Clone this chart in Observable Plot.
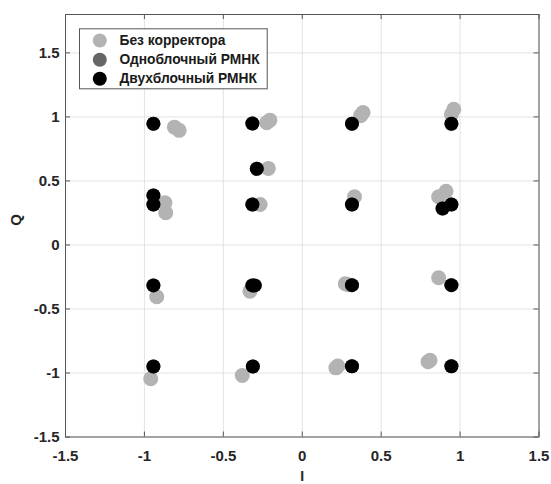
<!DOCTYPE html>
<html>
<head>
<meta charset="utf-8">
<script src="https://cdn.jsdelivr.net/npm/d3@7"></script>
<script src="https://cdn.jsdelivr.net/npm/@observablehq/plot@0.6"></script>
<style>
  html, body { margin: 0; padding: 0; background: #fff; }
  #chart svg { display: block; }
</style>
</head>
<body>
<div id="chart"></div>
<script>
// ---- data ----
const xTicks = [-1.5, -1, -0.5, 0, 0.5, 1, 1.5];
const yTicks = [-1.5, -1, -0.5, 0, 0.5, 1, 1.5];
const seriesNames = ["Без корректора", "Одноблочный РМНК", "Двухблочный РМНК"];
const seriesColors = ["#b3b3b3", "#666666", "#000000"];
const axisLabelX = "I";
const axisLabelY = "Q";

// Без корректора (no corrector)
const noCorrI = [-0.81, -0.78, -0.225, -0.205, 0.37, 0.385, 0.945, 0.96, -0.215, -0.87, -0.865, -0.267, 0.331, 0.911, 0.864, -0.922, -0.331, 0.273, 0.29, 0.864, -0.96, -0.38, 0.213, 0.225, 0.797, 0.81];
const noCorrQ = [0.92, 0.895, 0.955, 0.975, 1.01, 1.035, 1.02, 1.06, 0.598, 0.33, 0.252, 0.316, 0.376, 0.42, 0.376, -0.405, -0.361, -0.303, -0.31, -0.256, -1.045, -1.02, -0.96, -0.945, -0.912, -0.9];

// Одноблочный РМНК (single-block, hidden under two-block points)
const oneBlockI = [-0.943, -0.316, 0.315, 0.945, -0.288, -0.943, -0.943, -0.316, 0.315, 0.945, 0.889, -0.943, -0.316, 0.315, 0.945, -0.943, -0.313, 0.315, 0.945];
const oneBlockQ = [0.947, 0.949, 0.947, 0.947, 0.595, 0.387, 0.316, 0.316, 0.316, 0.316, 0.285, -0.316, -0.316, -0.314, -0.314, -0.949, -0.949, -0.947, -0.947];

// Двухблочный РМНК (two-block)
const twoBlockI = [-0.943, -0.316, 0.315, 0.945, -0.288, -0.943, -0.943, -0.316, 0.315, 0.945, 0.889, -0.943, -0.316, -0.30, 0.315, 0.945, -0.943, -0.313, 0.315, 0.945];
const twoBlockQ = [0.947, 0.949, 0.947, 0.947, 0.595, 0.387, 0.316, 0.316, 0.316, 0.316, 0.285, -0.316, -0.316, -0.316, -0.314, -0.314, -0.949, -0.949, -0.947, -0.947];

// ---- build ----
const toPts = (xs, ys) => xs.map((x, i) => ({x, y: ys[i]}));
const noCorr = toPts(noCorrI, noCorrQ);
const oneBlock = toPts(oneBlockI, oneBlockQ);
const twoBlock = toPts(twoBlockI, twoBlockQ);

const W = 551, H = 484;
const mL = 65, mR = 12.5, mT = 14, mB = 47.5;
const frameW = W - mL - mR, frameH = H - mT - mB;
const axisColor = "#555555";
const gridColor = "#e3e3e3";
const textColor = "#262626";
const tickLen = 5;

// legend geometry (pixels inside the frame)
const legLeft = 14, legTop = 14.3, legW = 187.7, legH = 60;
const legRowDy = [26, 45.3, 64.3];

const legendMarks = seriesNames.flatMap((name, i) => [
  Plot.dot([name], {frameAnchor: "top-left", dx: 34.3, dy: legRowDy[i], r: 7, fill: seriesColors[i], stroke: "none"}),
  Plot.text([name], {frameAnchor: "top-left", dx: 54, dy: legRowDy[i], text: d => d, textAnchor: "start", lineAnchor: "middle",
    fontSize: 13.8, fontWeight: "bold", fill: "#1a1a1a"})
]);

const chart = Plot.plot({
  width: W, height: H,
  marginLeft: mL, marginRight: mR, marginTop: mT, marginBottom: mB,
  style: {fontFamily: "'Liberation Sans', Arial, sans-serif", background: "#fff"},
  x: {domain: [-1.5, 1.5], label: null},
  y: {domain: [-1.5, 1.8], label: null},
  marks: [
    Plot.gridX(xTicks, {stroke: gridColor, strokeOpacity: 1}),
    Plot.gridY(yTicks, {stroke: gridColor, strokeOpacity: 1}),
    // inward tick marks on all four sides
    Plot.tickX(xTicks, {x: d => d, stroke: axisColor, insetTop: frameH - tickLen}),
    Plot.tickX(xTicks, {x: d => d, stroke: axisColor, insetBottom: frameH - tickLen}),
    Plot.tickY(yTicks, {y: d => d, stroke: axisColor, insetRight: frameW - tickLen}),
    Plot.tickY(yTicks, {y: d => d, stroke: axisColor, insetLeft: frameW - tickLen}),
    Plot.axisX(xTicks, {tickSize: 0, tickPadding: 13, tickFormat: d => String(d), fontSize: 15, fontWeight: "bold", fill: textColor, label: null}),
    Plot.axisY(yTicks, {tickSize: 0, tickPadding: 6, tickFormat: d => String(d), fontSize: 15, fontWeight: "bold", fill: textColor, label: null}),
    Plot.text([axisLabelX], {frameAnchor: "bottom", dy: 39.5, text: d => d, lineAnchor: "middle", fontSize: 14, fontWeight: "bold", fill: textColor}),
    Plot.text([axisLabelY], {frameAnchor: "left", dx: -49, text: d => d, rotate: -90, lineAnchor: "middle", fontSize: 15, fontWeight: "bold", fill: textColor}),
    // data
    Plot.dot(noCorr, {x: "x", y: "y", r: 7.5, fill: seriesColors[0], stroke: "none"}),
    Plot.dot(oneBlock, {x: "x", y: "y", r: 7, fill: seriesColors[1], stroke: "none"}),
    Plot.dot(twoBlock, {x: "x", y: "y", r: 7, fill: seriesColors[2], stroke: "none"}),
    Plot.frame({stroke: axisColor, strokeWidth: 1}),
    // legend box
    Plot.frame({fill: "#fff", stroke: axisColor, strokeWidth: 1,
      insetLeft: legLeft, insetTop: legTop, insetRight: frameW - legLeft - legW, insetBottom: frameH - legTop - legH}),
    ...legendMarks
  ]
});
document.getElementById("chart").appendChild(chart);
</script>
</body>
</html>
